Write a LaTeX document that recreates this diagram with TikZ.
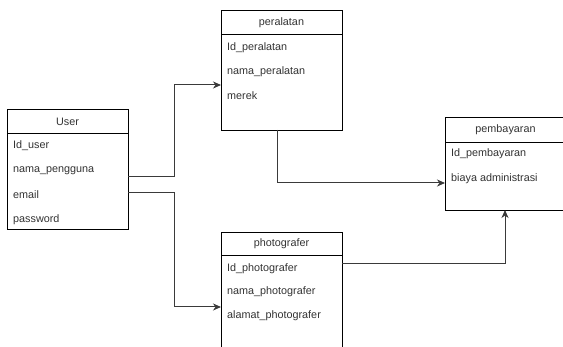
\documentclass[tikz,border=0pt]{standalone}
\usepackage{fontspec}
\setmainfont{Liberation Sans}
\usetikzlibrary{arrows.meta}
\definecolor{txt}{HTML}{333333}
\definecolor{ln}{HTML}{3A3A3A}
\begin{document}
\begin{tikzpicture}[x=1pt,y=-1pt,
  entity/.style={draw=black,line width=0.9pt,fill=white,anchor=north west,inner sep=0pt,minimum width=121pt},
  head/.style={text=txt,font=\fontsize{10.8}{12}\selectfont,anchor=center,inner sep=0pt},
  field/.style={text=txt,font=\fontsize{10.8}{12}\selectfont,anchor=west,inner sep=0pt},
  conn/.style={draw=ln,line width=1pt,-{Stealth[length=8pt,width=7pt,inset=2.5pt]}}]
\useasboundingbox (0,0) rectangle (563,347);
\clip (0,0) rectangle (563,347);
\fill[white] (0,0) rectangle (563,347);
% boxes
\node[entity,minimum height=120pt] (user) at (7,109) {};
\node[entity,minimum height=120pt] (peralatan) at (221,10) {};
\node[entity,minimum height=122pt] (photo) at (221,232) {};
\node[entity,minimum height=93pt] (bayar) at (445,117) {};
% header separators
\draw[line width=0.9pt] ([yshift=-24pt]user.north west) -- ([yshift=-24pt]user.north east);
\draw[line width=0.9pt] ([yshift=-24pt]peralatan.north west) -- ([yshift=-24pt]peralatan.north east);
\draw[line width=0.9pt] ([yshift=-23pt]photo.north west) -- ([yshift=-23pt]photo.north east);
\draw[line width=0.9pt] ([yshift=-25pt]bayar.north west) -- ([yshift=-25pt]bayar.north east);
% User
\node[head] (userT) at (67.5,121.5) {User};
\node[field] (u1) at (13,146) {Id\_user};
\node[field] (u2) at (13,171) {nama\_pengguna};
\node[field] (u3) at (13,195) {email};
\node[field] (u4) at (13,220) {password};
% peralatan
\node[head] (perT) at (281.5,22.5) {peralatan};
\node[field] (p1) at (227,48) {Id\_peralatan};
\node[field] (p2) at (227,72) {nama\_peralatan};
\node[field] (p3) at (227,96) {merek};
% photografer
\node[head] (phT) at (281.5,244) {photografer};
\node[field] (f1) at (227,269) {Id\_photografer};
\node[field] (f2) at (227,292) {nama\_photografer};
\node[field] (f3) at (227,316) {alamat\_photografer};
% pembayaran
\node[head] (bayT) at (505.5,130) {pembayaran};
\node[field] (b1) at (451,154) {Id\_pembayaran};
\node[field] (b2) at (451,179) {biaya administrasi};
% connector anchors
\coordinate (uA) at (128,177);
\coordinate (uB) at (128,193);
\coordinate (pIn) at (221,85);
\coordinate (fIn) at (221,307);
\coordinate (pOut) at (277,130);
\coordinate (bIn) at (445,183);
\coordinate (fOut) at (342,264);
\coordinate (bBot) at (505,210);
% connectors
\draw[conn] (uA) -- (174,177) -- (174,85) -- (pIn);
\draw[conn] (uB) -- (174,193) -- (174,307) -- (fIn);
\draw[conn] (pOut) -- (277,183) -- (bIn);
\draw[conn] (fOut) -- (505,264) -- (bBot);
\end{tikzpicture}
\end{document}
